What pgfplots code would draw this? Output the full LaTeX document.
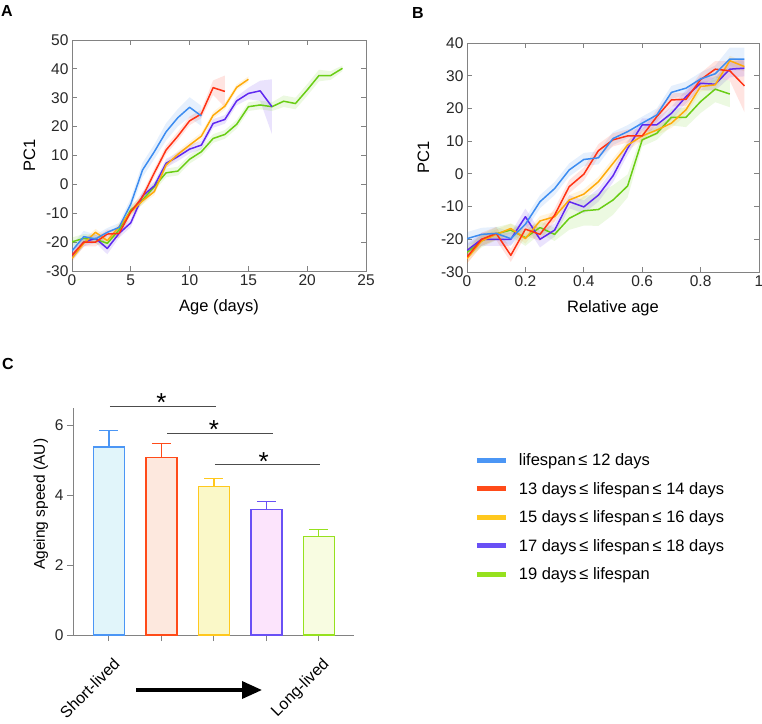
\documentclass[border=0pt]{standalone}
\usepackage{fontspec}
\setmainfont{Liberation Sans}
\usepackage{pgfplots}
\pgfplotsset{compat=1.18}
\usepackage{pgfplotstable}
\usepgfplotslibrary{fillbetween}
\usetikzlibrary{arrows.meta}

% line colours (panels A, B)
\definecolor{cbl}{RGB}{60,140,240}
\definecolor{cre}{RGB}{255,50,20}
\definecolor{cor}{RGB}{255,170,10}
\definecolor{cpu}{RGB}{95,40,240}
\definecolor{cgr}{RGB}{105,205,20}
% bar / legend colours (panel C)
\definecolor{lbl}{RGB}{75,150,245}
\definecolor{lre}{RGB}{255,75,25}
\definecolor{lye}{RGB}{255,200,30}
\definecolor{lpu}{RGB}{105,80,245}
\definecolor{lgr}{RGB}{150,225,30}
\definecolor{fbl}{RGB}{225,245,250}
\definecolor{fre}{RGB}{253,232,222}
\definecolor{fye}{RGB}{250,248,200}
\definecolor{fpu}{RGB}{252,228,252}
\definecolor{fgr}{RGB}{248,252,225}
\definecolor{axgray}{RGB}{130,130,130}
\definecolor{txt}{RGB}{40,40,40}

% panel A: age (days), PC1, half-width of band
\pgfplotstableread{
x y e
0 -23 2
1 -18.1 2
2 -18.9 1.5
3 -16.6 1.5
4 -14.9 1.5
5 -6.8 2
6 5 2.5
7 11.3 2.5
8 18.2 3
9 23.1 3
10 26.7 3.5
11 23.7 3.5
}\Abl
\pgfplotstableread{
x y e
0 -24.5 1.5
1 -20 1.5
2 -20 1.5
3 -17.2 1.5
4 -17 1.5
5 -9.5 1.5
6 -4.3 1.5
7 4 1.5
8 11.9 1.5
9 16.7 1.5
10 22 1.5
11 24.4 1.5
12 33.5 2.5
13 32.2 5.5
}\Are
\pgfplotstableread{
x y e
0 -25.6 1.2
1 -20.4 1.2
2 -16.6 1.2
3 -19.5 1.2
4 -14.7 1.2
5 -9.5 1.2
6 -5.7 1.2
7 -2.5 1.2
8 6.7 1.2
9 10.4 1.2
10 13.6 1.2
11 16.7 1.2
12 23.9 1.2
13 27.1 1.2
14 33.6 1
15 36.4 1
}\Aor
\pgfplotstableread{
x y e
0 -25 1.5
1 -20 1.5
2 -18.7 1.5
3 -22.2 2
4 -17 1.5
5 -13.3 1.5
6 -4 1.5
7 -0.5 1.5
8 7.3 1.5
9 9.6 1.5
10 12.2 1.5
11 13.6 1.5
12 21.1 1.5
13 22.5 1.5
14 28.9 1.5
15 31.5 2
16 32.4 3.5
17 26.9 9.5
}\Apu
\pgfplotstableread{
x y e
0 -19.9 1.5
1 -18.7 1.5
2 -19 1.5
3 -20.4 1.5
4 -15.8 1.5
5 -8.9 1.5
6 -5.4 1.5
7 -0.8 1.5
8 4 1.5
9 4.6 1.5
10 8.7 1.5
11 11.3 1.5
12 15.9 1.5
13 17.3 1.5
14 20.8 1.5
15 26.9 1.5
16 27.5 1.5
17 26.9 1.5
18 28.8 2
19 28 2
20 32.7 2
21 37.7 2
22 37.7 1.5
23 40.2 1
}\Agr

% panel B: relative age, PC1, half-width of band
\pgfplotstableread{
x y e
0 -19.8 2
0.05 -18.5 2
0.1 -18.2 2
0.15 -19.8 2
0.2 -15.4 2
0.25 -8.5 2
0.3 -4.5 2
0.35 1.2 2
0.4 4.4 2
0.45 4.9 2
0.5 10.8 2
0.55 12.9 2
0.6 15.5 2
0.65 18 2
0.7 24.9 2
0.75 26.2 2
0.8 29 2
0.85 30.6 2.5
0.9 35.1 3.5
0.95 35.1 3.5
}\Bbl
\pgfplotstableread{
x y e
0 -25.4 2
0.05 -20 2
0.1 -18.2 2
0.15 -24.9 2
0.2 -16.9 2
0.25 -18.5 2
0.3 -12.6 2
0.35 -3.9 2
0.4 -0.1 2
0.45 7.1 2
0.5 10.4 2
0.55 11.6 2
0.6 11.6 2
0.65 17.5 2
0.7 22.6 2
0.75 22.8 2
0.8 28.8 2
0.85 32 2.5
0.9 31.5 3
0.95 26.9 8
}\Bre
\pgfplotstableread{
x y e
0 -25.9 1.5
0.05 -20.5 1.5
0.1 -18.5 1.5
0.15 -16.7 1.5
0.2 -19.8 1.5
0.25 -14.4 1.5
0.3 -13.1 1.5
0.35 -8 1.5
0.4 -6.2 1.5
0.45 -2.4 1.5
0.5 3.2 1.5
0.55 8.8 1.5
0.6 11.6 1.5
0.65 13.4 1.5
0.7 15.5 1.5
0.75 19.6 1.5
0.8 26.7 1.5
0.85 27.2 1.5
0.9 34.6 1.5
0.95 32.8 1.5
}\Bor
\pgfplotstableread{
x y e
0 -23.4 2
0.05 -20 2
0.1 -20 2
0.15 -20 2
0.2 -13.1 2.5
0.25 -20 2.5
0.3 -17.2 2
0.35 -8.5 2
0.4 -10.1 2
0.45 -6.5 2
0.5 -0.6 2
0.55 7.8 2
0.6 15 2
0.65 15 2
0.7 18.5 2
0.75 23.6 2
0.8 27.7 2
0.85 27.4 2
0.9 32 2.5
0.95 32.3 2.5
}\Bpu
\pgfplotstableread{
x y e
0 -24 2
0.05 -20.5 2
0.1 -18.3 2
0.15 -17.2 2
0.2 -19.5 2.5
0.25 -16.4 2
0.3 -18.5 2
0.35 -13.6 3.5
0.4 -11.3 4.5
0.45 -10.9 5
0.5 -8 4.5
0.55 -3.7 3.5
0.6 10.4 2
0.65 12.4 2
0.7 17.3 2.5
0.75 17.3 3
0.8 22.1 3.5
0.85 25.9 4
0.9 24.4 4
}\Bgr

% panel C: group, ageing speed, upper error
\pgfplotstableread{
x y e
1 5.37 0.47
}\Cbl
\pgfplotstableread{
x y e
2 5.08 0.39
}\Cre
\pgfplotstableread{
x y e
3 4.25 0.23
}\Cye
\pgfplotstableread{
x y e
4 3.58 0.23
}\Cpu
\pgfplotstableread{
x y e
5 2.81 0.21
}\Cgr

\newcommand{\band}[3]{%
  \addplot[name path=#3u, draw=none, forget plot] table[x=x, y expr=\thisrow{y}+\thisrow{e}] {#1};
  \addplot[name path=#3l, draw=none, forget plot] table[x=x, y expr=\thisrow{y}-\thisrow{e}] {#1};
  \addplot[fill=#2, fill opacity=0.13, draw=none, forget plot] fill between[of=#3u and #3l];}

\newcommand{\cbar}[3]{%
  \addplot[ybar, bar width=31pt, bar shift=0pt, draw=#2, fill=#3, line width=1.3pt, forget plot,
    error bars/.cd, y dir=plus, y explicit, error bar style={#2, line width=1.3pt},
    error mark options={#2, rotate=90, mark size=9.5pt, line width=1.3pt}]
    table[x=x, y=y, y error=e] {#1};}

\pgfplotsset{
  panel/.style={
    scale only axis,
    axis line style={axgray, line width=0.8pt},
    tick style={axgray, line width=0.8pt},
    tick align=inside,
    major tick length=5pt,
    ticklabel style={font=\fontsize{15.5}{17}\selectfont, text=txt},
    label style={font=\fontsize{16.5}{19}\selectfont, text=black},
    /pgf/number format/assume math mode=true,
  },
  ln/.style={#1, line width=1.5pt, line join=round},
}

\begin{document}
\begin{tikzpicture}

% ---------------- panel A ----------------
\begin{axis}[panel, at={(72pt,-271pt)}, anchor=south west,
    width=294pt, height=231pt,
    xmin=0, xmax=25, ymin=-30, ymax=50,
    xtick={0,5,...,25}, ytick={-30,-20,...,50},
    xlabel={Age (days)}, ylabel={PC1},
    xlabel shift=7pt, ylabel shift=4pt]
\band{\Abl}{cbl}{ab}
\band{\Are}{cre}{ar}
\band{\Aor}{cor}{ao}
\band{\Apu}{cpu}{ap}
\band{\Agr}{cgr}{ag}
\addplot[ln=cgr] table[x=x,y=y] {\Agr};
\addplot[ln=cpu] table[x=x,y=y] {\Apu};
\addplot[ln=cor] table[x=x,y=y] {\Aor};
\addplot[ln=cre] table[x=x,y=y] {\Are};
\addplot[ln=cbl] table[x=x,y=y] {\Abl};
\end{axis}

% ---------------- panel B ----------------
\begin{axis}[panel, at={(467pt,-272pt)}, anchor=south west,
    width=292pt, height=229pt,
    xmin=0, xmax=1, ymin=-30, ymax=40,
    xtick={0,0.2,0.4,0.6,0.8,1}, ytick={-30,-20,...,40},
    xticklabels={0,0.2,0.4,0.6,0.8,1},
    xlabel={Relative age}, ylabel={PC1},
    xlabel shift=7pt, ylabel shift=5pt]
\band{\Bbl}{cbl}{bb}
\band{\Bre}{cre}{br}
\band{\Bor}{cor}{bo}
\band{\Bpu}{cpu}{bp}
\band{\Bgr}{cgr}{bg}
\addplot[ln=cgr] table[x=x,y=y] {\Bgr};
\addplot[ln=cpu] table[x=x,y=y] {\Bpu};
\addplot[ln=cor] table[x=x,y=y] {\Bor};
\addplot[ln=cre] table[x=x,y=y] {\Bre};
\addplot[ln=cbl] table[x=x,y=y] {\Bbl};
\end{axis}

% ---------------- panel C ----------------
\begin{axis}[panel, at={(73pt,-635pt)}, anchor=south west,
    width=281pt, height=227.5pt,
    xmin=0.316, xmax=5.67, ymin=0, ymax=6.5,
    axis x line=bottom, axis y line=left,
    axis line style={-, axgray, line width=0.8pt},
    tick align=outside, major tick length=6pt,
    xtick={1,2,3,4,5}, xticklabels={,,,,}, ytick={0,2,4,6},
    ylabel={Ageing speed (AU)},
    ylabel style={at={(ticklabel cs:0.575)}, font=\fontsize{15.5}{18}\selectfont},
    clip=false,
    legend cell align=left,
    legend style={at={(1.417,0.815)}, anchor=north west, draw=none, fill=none,
      font=\fontsize{16.5}{19}\selectfont, row sep=11pt},
    legend image code/.code={\draw[line width=5pt] (0pt,0pt) -- (29pt,0pt);
      \path[draw=none, fill=none] (0pt,0pt) -- (40pt,0pt);}]
\cbar{\Cbl}{lbl}{fbl}
\cbar{\Cre}{lre}{fre}
\cbar{\Cye}{lye}{fye}
\cbar{\Cpu}{lpu}{fpu}
\cbar{\Cgr}{lgr}{fgr}
\addlegendimage{lbl}
\addlegendentry{lifespan\,≤ 12 days}
\addlegendimage{lre}
\addlegendentry{13 days\,≤ lifespan\,≤ 14 days}
\addlegendimage{lye}
\addlegendentry{15 days\,≤ lifespan\,≤ 16 days}
\addlegendimage{lpu}
\addlegendentry{17 days\,≤ lifespan\,≤ 18 days}
\addlegendimage{lgr}
\addlegendentry{19 days\,≤ lifespan}
% significance brackets
\draw[black!70, line width=0.9pt] (axis cs:1.02,6.52) -- (axis cs:3.04,6.52);
\draw[black!70, line width=0.9pt] (axis cs:2.11,5.76) -- (axis cs:4.12,5.76);
\draw[black!70, line width=0.9pt] (axis cs:3.02,4.86) -- (axis cs:5.03,4.86);
\node[font=\fontsize{26}{26}\selectfont, yshift=-6pt] at (axis cs:2.0,6.81) {*};
\node[font=\fontsize{26}{26}\selectfont, yshift=-6pt] at (axis cs:3.0,6.05) {*};
\node[font=\fontsize{26}{26}\selectfont, yshift=-6pt] at (axis cs:3.95,5.14) {*};
% end labels
\node[rotate=45, anchor=base east, font=\fontsize{16}{19}\selectfont, inner sep=0pt]
  at ([shift={(12pt,-30pt)}]axis cs:1,0) {Short-lived};
\node[rotate=45, anchor=base east, font=\fontsize{16}{19}\selectfont, inner sep=0pt]
  at ([shift={(11pt,-30pt)}]axis cs:5,0) {Long-lived};
\end{axis}

\draw[line width=3.5pt, -{Triangle[length=20pt,width=17pt]}] (136pt,-690pt) -- (262pt,-690pt);

% panel letters
\node[anchor=north west, inner sep=0pt, font=\bfseries\fontsize{16}{16}\selectfont] at (1pt,-5pt) {A};
\node[anchor=north west, inner sep=0pt, font=\bfseries\fontsize{16}{16}\selectfont] at (412pt,-7pt) {B};
\node[anchor=north west, inner sep=0pt, font=\bfseries\fontsize{16}{16}\selectfont] at (2pt,-358pt) {C};

\pgfresetboundingbox
\path (0,0) rectangle (762pt,-723pt);
\end{tikzpicture}
\end{document}
